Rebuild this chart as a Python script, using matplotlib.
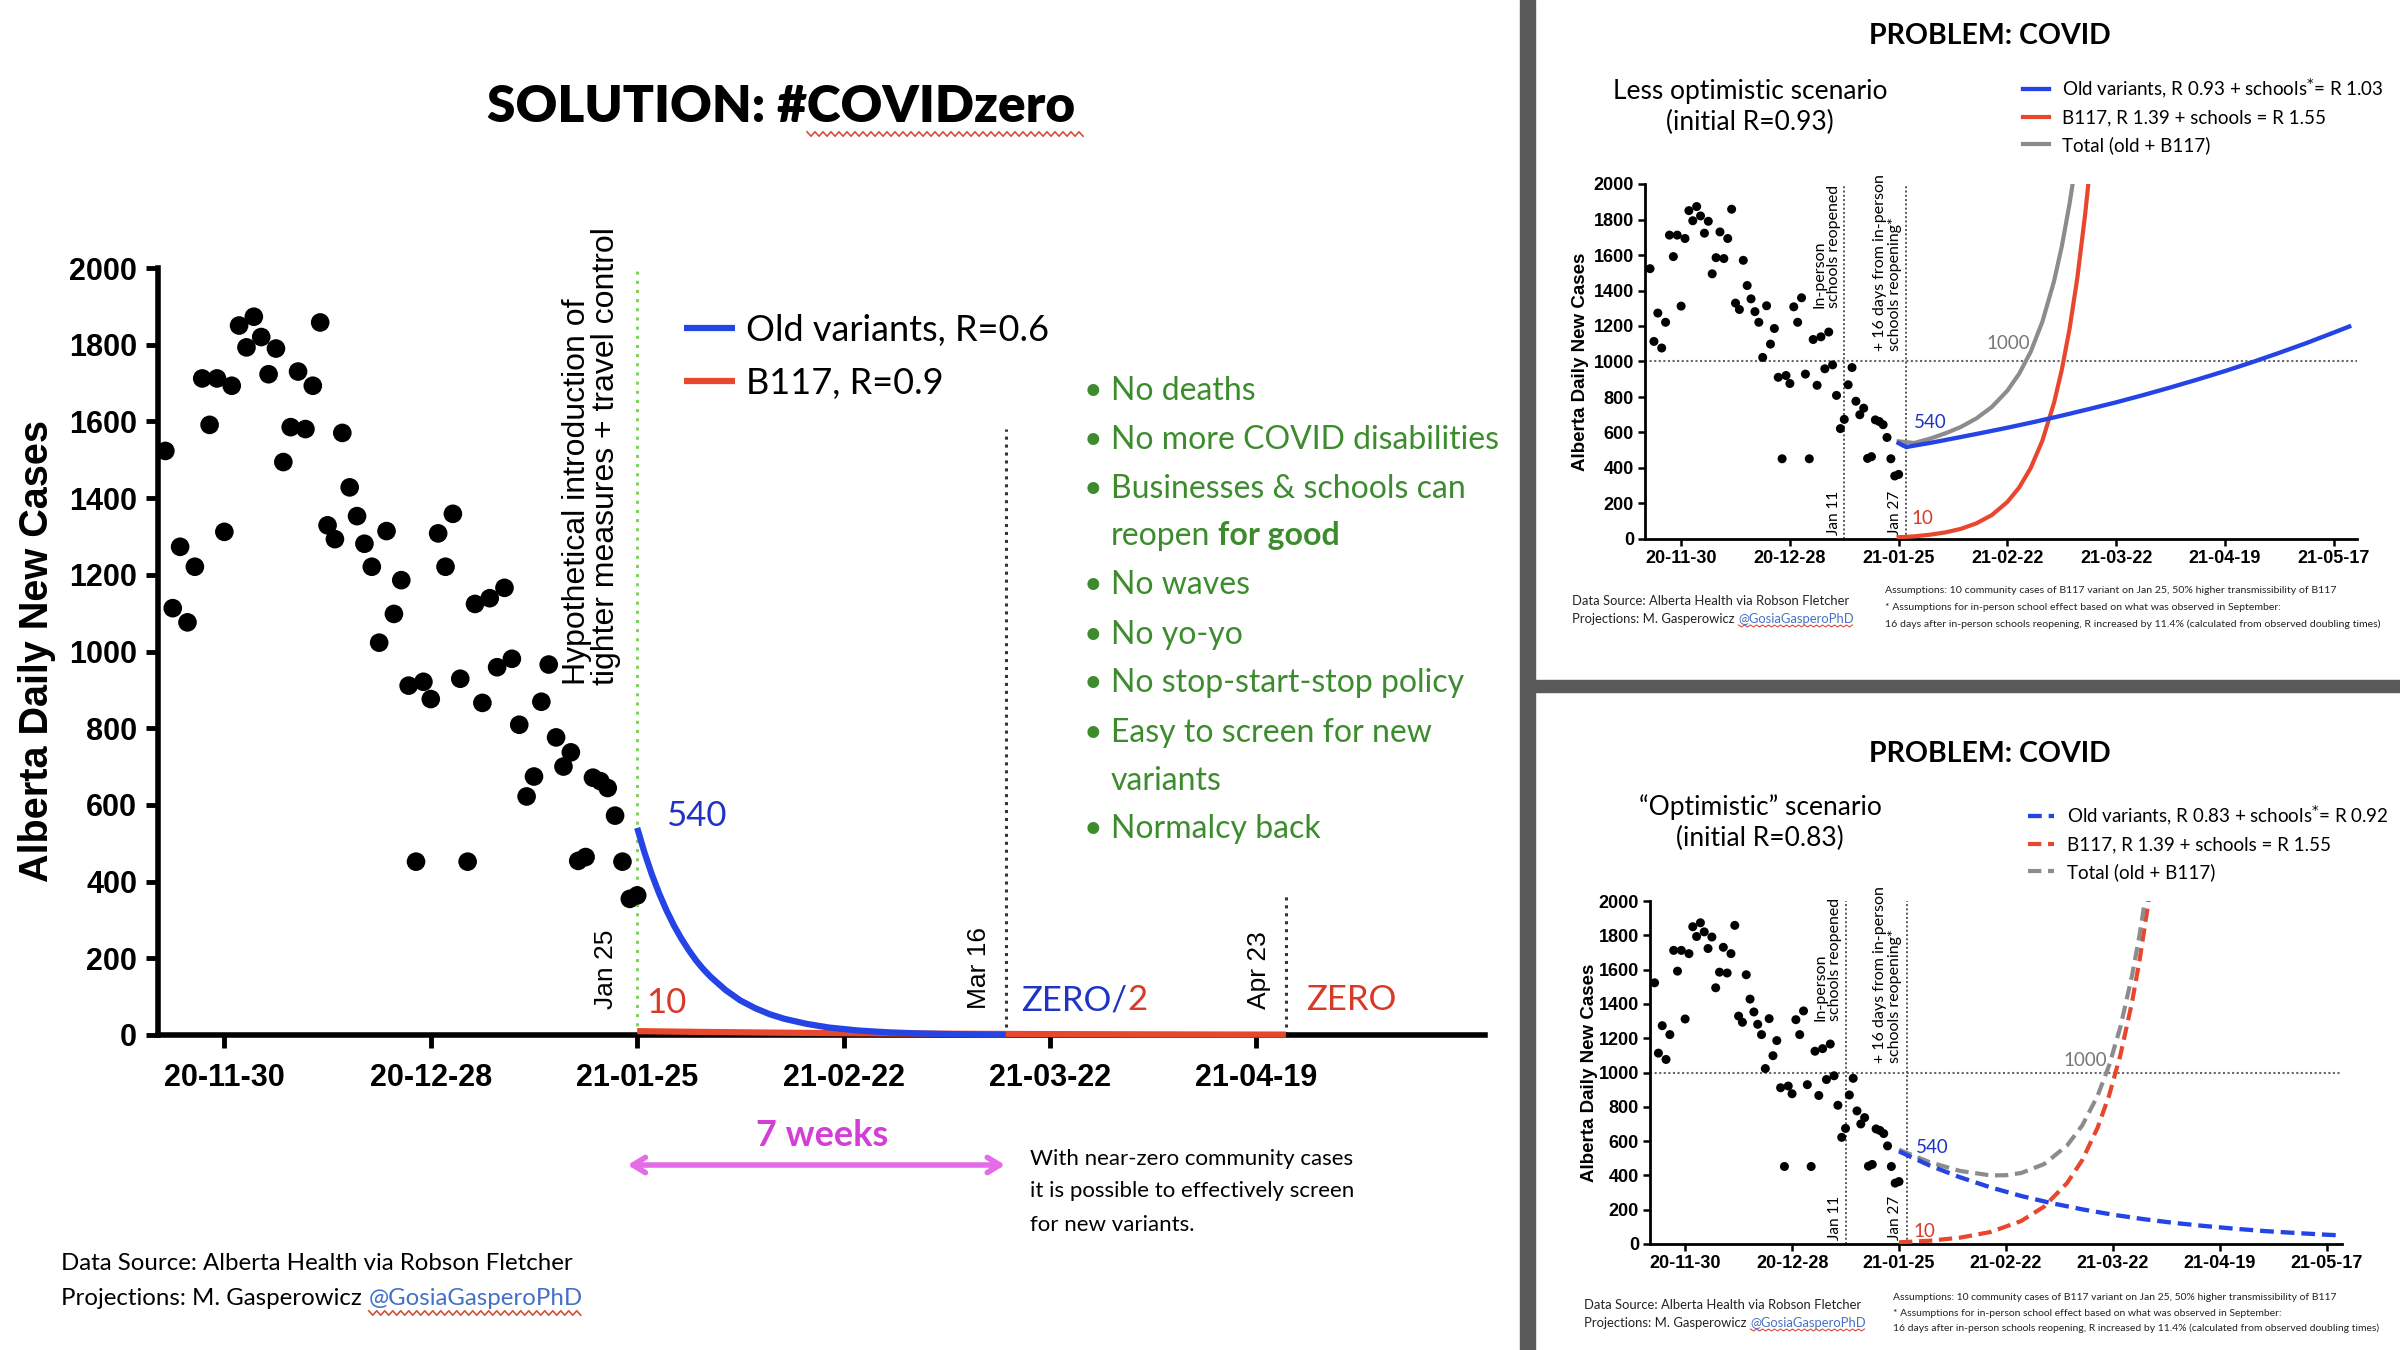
import numpy as np
import matplotlib
matplotlib.use('Agg')
import matplotlib.pyplot as plt
from matplotlib import font_manager as fm
from matplotlib.lines import Line2D
from matplotlib.patches import Rectangle
import matplotlib.transforms as mtransforms


def pick(names):
    for n in names:
        try:
            fm.findfont(fm.FontProperties(family=n), fallback_to_default=False)
            return n
        except Exception:
            continue
    return 'DejaVu Sans'


CAL = pick(['Lato', 'Open Sans', 'Liberation Sans'])
ARI = pick(['Liberation Sans', 'DejaVu Sans'])
ARN = pick(['Liberation Sans Narrow', 'Liberation Sans', 'DejaVu Sans'])

# ---------------- data (days relative to 2021-01-25) ----------------
cases = [1523, 1113, 1273, 1076, 1221, 1712, 1591, 1712, 1312, 1693, 1850, 1793,
         1873, 1820, 1723, 1790, 1494, 1585, 1730, 1580, 1693, 1858, 1329, 1293,
         1570, 1428, 1353, 1281, 1221, 1023, 1314, 1098, 1186, 911, 452, 921,
         876, 1308, 1221, 1359, 929, 452, 1124, 866, 1139, 959, 1166, 981,
         809, 622, 674, 869, 966, 776, 700, 737, 454, 464, 671, 662,
         644, 572, 452, 355, 364]
first_case_day = -64  # 2020-11-22

tick_days = [-56, -28, 0, 28, 56, 84, 112]
tick_labels = ['20-11-30', '20-12-28', '21-01-25', '21-02-22', '21-03-22', '21-04-19', '21-05-17']

# main panel projections (#COVIDzero)
old_main_days = [0, 1, 2, 3, 4, 5, 6, 7, 8, 9, 10, 12, 14, 16, 18, 20, 23, 26, 30, 34, 38, 42, 46, 50]
old_main_vals = [540, 475, 418, 368, 324, 285, 251, 221, 194, 171, 151, 117, 90, 70, 54, 42,
                 29, 19.5, 11.7, 7, 4.2, 2.5, 1.5, 0.9]
b117_main_days = [0, 10, 20, 30, 40, 50, 60, 70, 80, 88]
b117_main_vals = [10, 7.7, 5.9, 4.5, 3.5, 2.7, 2.1, 1.6, 1.2, 1.0]
event_days_main = [0, 50, 88]          # Jan 25, Mar 16, Apr 23
event_tops_main = [2000, 1580, 363]

# less optimistic scenario
old_top_days = [0, 1, 2, 4, 8, 14, 21, 28, 35, 42, 49, 56, 63, 70, 77, 84, 91, 98, 105, 112, 116]
old_top_vals = [540, 528, 518, 526, 541, 566, 596, 627, 660, 695, 732, 770, 811, 854, 899,
                946, 996, 1049, 1104, 1163, 1197]
b117_top_days = [0, 4, 8, 12, 16, 20, 24, 28, 31, 34, 37, 40, 42, 44, 46, 48, 49]
b117_top_vals = [10, 15, 24, 37, 57, 88, 135, 209, 289, 400, 554, 767, 953, 1184, 1471, 1827, 2037]
tot_top_days = [0, 4, 8, 12, 16, 20, 24, 28, 31, 34, 37, 40, 42, 44, 45]
tot_top_vals = [550, 541, 565, 595, 631, 679, 744, 836, 930, 1055, 1224, 1452, 1648, 1889, 2030]

# optimistic scenario
old_bot_days = [0, 8, 16, 24, 32, 40, 48, 56, 64, 72, 80, 88, 96, 104, 112, 116]
old_bot_vals = [540, 458, 389, 330, 280, 238, 202, 171, 145, 123, 105, 89, 75, 64, 54, 50]
b117_bot_days = [0, 8, 16, 24, 32, 38, 44, 48, 52, 55, 58, 61, 63, 65, 66]
b117_bot_vals = [10, 19, 37, 70, 134, 218, 355, 490, 678, 865, 1104, 1408, 1655, 1947, 2112]
tot_bot_days = [0, 8, 16, 24, 28, 32, 38, 44, 48, 52, 55, 58, 61, 63, 65]
tot_bot_vals = [550, 477, 426, 400, 401, 414, 466, 574, 692, 864, 1040, 1268, 1563, 1803, 2089]

school_days = [-14, 2]   # Jan 11, Jan 27

case_days = np.arange(len(cases)) + first_case_day

# ---------------- colours ----------------
BLUE = '#2444e6'
RED = '#e8462d'
GREY = '#8c8c8c'
BLUE_TXT = '#1f34c4'
RED_TXT = '#d83a28'
GREEN = '#3c8c2e'
MAGENTA = '#d23ed6'
ARROW = '#e46ce8'
LINK = '#4470c8'
WAVE = '#d2503c'

W, H = 2400, 1350
fig = plt.figure(figsize=(W / 100, H / 100), dpi=100)
fig.patch.set_facecolor('white')
R = fig.canvas.get_renderer()


def rect(x0, y0, x1, y1):
    return [x0 / W, 1 - y1 / H, (x1 - x0) / W, (y1 - y0) / H]


def ctext(x, yc, s, size, family=None, **kw):
    fam = family or CAL
    yb = yc + 0.36 * size * 100 / 72
    return fig.text(x / W, 1 - yb / H, s, fontsize=size, family=fam, va='baseline', **kw)


def xend(t):
    return t.get_window_extent(R).x1


def wavy(x0, x1, y, amp=2.2, step=4, lw=1.2):
    xs = np.arange(x0, x1, step)
    ys = y + amp * np.where(np.arange(len(xs)) % 2 == 0, -1, 1)
    fig.add_artist(Line2D(xs / W, 1 - ys / H, color=WAVE, lw=lw))


# ================= MAIN PANEL =================
ax = fig.add_axes(rect(158, 268, 1485, 1035))
ax.set_xlim(-65, 115)
ax.set_ylim(0, 2000)
ax.spines[['top', 'right']].set_visible(False)
ax.spines[['left', 'bottom']].set_linewidth(4)
ax.set_xticks(tick_days[:6])
ax.set_xticklabels(tick_labels[:6])
ax.set_yticks(np.arange(0, 2001, 200))
ax.tick_params(length=9, width=3.5, labelsize=22, pad=6)
ax.tick_params(axis='x', pad=11)
for lab in ax.get_xticklabels() + ax.get_yticklabels():
    lab.set_fontweight('bold')
    lab.set_family(ARI)
ax.set_ylabel('Alberta Daily New Cases', fontsize=28.5, fontweight='bold', family=ARI)
ax.yaxis.set_label_coords(-0.077, 0.5)

ax.scatter(case_days, cases, s=180, color='black', edgecolors='none', zorder=3, clip_on=False)
h_b = ax.plot(b117_main_days, b117_main_vals, color=RED, lw=4.5, zorder=4, clip_on=False,
              solid_capstyle='butt', label='B117, R=0.9')[0]
h_o = ax.plot(old_main_days, old_main_vals, color=BLUE, lw=4.5, zorder=5, clip_on=False,
              solid_capstyle='butt', label='Old variants, R=0.6')[0]
ax.vlines(event_days_main[0], 0, event_tops_main[0], colors='#7fd35b',
          linestyles=(0, (1, 2)), lw=2.2, zorder=2)
ax.vlines(event_days_main[1:], 0, event_tops_main[1:], colors='#333333',
          linestyles=(0, (1, 1.6)), lw=2.2, zorder=2)

ax.legend(handles=[h_o, h_b], loc='center left', bbox_to_anchor=(684 / W, 1 - 357 / H),
          bbox_transform=fig.transFigure, frameon=False, prop=dict(family=CAL, size=26),
          handlelength=1.4, handletextpad=0.33, labelspacing=0.56, borderpad=0, borderaxespad=0)

ax.text(-2.2, 912, 'Hypothetical introduction of\ntighter measures + travel control',
        rotation=90, rotation_mode='anchor', ha='left', va='bottom', fontsize=23,
        family=ARI, linespacing=0.95)
for d, lab in zip([-4.2, 46.3, 84.4], ['Jan 25', 'Mar 16', 'Apr 23']):
    ax.text(d, 68, lab, rotation=90, rotation_mode='anchor', ha='left', va='center',
            fontsize=19, family=ARI)
ax.text(8, 571, '540', color=BLUE_TXT, fontsize=25, family=CAL, ha='center', va='center')
ax.text(3.9, 83, '10', color=RED_TXT, fontsize=25, family=CAL, ha='center', va='center')

t = ctext(1021, 998, 'ZERO/', 25, color=BLUE_TXT)
ctext(xend(t), 998, '2', 25, color=RED_TXT)
ctext(1306, 998, 'ZERO', 25, color=RED_TXT)

# title
ctext(781, 103, 'SOLUTION: #COVIDzero', 37, weight='heavy', ha='center', color='black')
wavy(807, 1086, 134)

# bullets
bullet_lines = [('No deaths', True), ('No more COVID disabilities', True),
                ('Businesses & schools can', True), ('reopen', False), ('No waves', True),
                ('No yo-yo', True), ('No stop-start-stop policy', True),
                ('Easy to screen for new', True), ('variants', False), ('Normalcy back', True)]
bullet_y = [389, 438, 487, 534, 582, 632, 681, 730, 778, 827]
for (txt, has_b), y in zip(bullet_lines, bullet_y):
    if has_b:
        ctext(1084, y, '•', 23, color=GREEN)
    tt = ctext(1111, y, txt, 23, color=GREEN)
    if txt == 'reopen':
        ctext(xend(tt) + 8, y, 'for good', 23, color=GREEN, weight='bold')

# 7 weeks arrow
ctext(822, 1133, '7 weeks', 26, color=MAGENTA, weight='bold', ha='center')
btr = mtransforms.blended_transform_factory(ax.transData, fig.transFigure)
ax.annotate('', xy=(49.9, 1 - 1165 / H), xytext=(-1.3, 1 - 1165 / H), xycoords=btr,
            textcoords=btr, annotation_clip=False,
            arrowprops=dict(arrowstyle='<->,head_length=0.9,head_width=0.55', color=ARROW,
                            lw=4, shrinkA=0, shrinkB=0))
for s, y in zip(['With near-zero community cases', 'it is possible to effectively screen',
                 'for new variants.'], [1157, 1189, 1223]):
    ctext(1030, y, s, 16, color='black')

# source
ctext(61, 1261, 'Data Source: Alberta Health via Robson Fletcher', 17.3, color='black')
t = ctext(61, 1296, 'Projections: M. Gasperowicz', 17.3, color='black')
t2 = ctext(xend(t) + 7, 1296, '@GosiaGasperoPhD', 17.3, color=LINK)
bb = t2.get_window_extent(R)
wavy(bb.x0, bb.x1, 1313)


# ================= SIDE PANELS =================
def side_panel(box, xlim, ylab_x, dashed, old_d, old_v, b_d, b_v, t_d, t_v,
               lab540, lab10, lab1000):
    a = fig.add_axes(rect(*box))
    a.set_xlim(*xlim)
    a.set_ylim(0, 2000)
    a.spines[['top', 'right']].set_visible(False)
    a.spines[['left', 'bottom']].set_linewidth(2)
    a.set_xticks(tick_days)
    a.set_xticklabels(tick_labels)
    a.set_yticks(np.arange(0, 2001, 200))
    a.tick_params(length=5, width=1.8, labelsize=13, pad=3)
    for lab in a.get_xticklabels() + a.get_yticklabels():
        lab.set_fontweight('bold')
        lab.set_family(ARN)
    a.set_ylabel('Alberta Daily New Cases', fontsize=13.5, fontweight='bold', family=ARN)
    a.yaxis.set_label_coords(ylab_x, 0.5)
    a.scatter(case_days, cases, s=42, color='black', edgecolors='none', zorder=3, clip_on=False)
    a.axhline(1000, color='#666666', ls=(0, (1, 1.2)), lw=1.5, zorder=1)
    a.vlines(school_days, 0, 2000, colors='#555555', linestyles=(0, (1, 1.2)), lw=1.4, zorder=1)
    ls = (0, (3.2, 1.6)) if dashed else '-'
    lo = a.plot(old_d, old_v, color=BLUE, lw=3.1, ls=ls, zorder=5)[0]
    lb = a.plot(b_d, b_v, color=RED, lw=3.0, ls=ls, zorder=4)[0]
    lt = a.plot(t_d, t_v, color=GREY, lw=3.0, ls=ls, zorder=4)[0]
    a.text(-14.8, 1300, 'In-person\nschools reopened', rotation=90, rotation_mode='anchor',
           ha='left', va='bottom', fontsize=11.5, family=CAL, linespacing=1.1)
    a.text(0.9, 1058, '+ 16 days from in-person\nschools reopening*', rotation=90,
           rotation_mode='anchor', ha='left', va='bottom', fontsize=11.5, family=CAL,
           linespacing=1.1)
    for d, lab in zip([-14.8, 0.9], ['Jan 11', 'Jan 27']):
        a.text(d, 25, lab, rotation=90, rotation_mode='anchor', ha='left', va='bottom',
               fontsize=11, family=CAL)
    a.text(*lab540, '540', color=BLUE_TXT, fontsize=13.5, family=CAL, ha='center', va='center')
    a.text(*lab10, '10', color=RED_TXT, fontsize=13.5, family=CAL, ha='center', va='center')
    a.text(*lab1000, '1000', color='#777777', fontsize=13.5, family=CAL, ha='center', va='center')
    return a, lo, lb, lt


def panel_texts(a, handles, labels, title_y, scen, scen_x, scen_y, leg_x, leg_y,
                src_x, src_y, as_x, as_y, as_size):
    ctext(1990, title_y, 'PROBLEM: COVID', 20.5, weight='bold', ha='center', color='black')
    ctext(scen_x, scen_y[0], scen[0], 19, ha='center', color='black')
    ctext(scen_x, scen_y[1], scen[1], 19, ha='center', color='black')
    a.legend(handles=handles, labels=labels, loc='center left',
             bbox_to_anchor=(leg_x / W, 1 - leg_y / H), bbox_transform=fig.transFigure,
             frameon=False, prop=dict(family=CAL, size=13.5), handlelength=1.4,
             handletextpad=0.7, labelspacing=0.5, borderpad=0, borderaxespad=0)
    ctext(src_x, src_y[0], 'Data Source: Alberta Health via Robson Fletcher', 9.4, color='#222222')
    t = ctext(src_x, src_y[1], 'Projections: M. Gasperowicz', 9.4, color='#222222')
    t2 = ctext(xend(t) + 4, src_y[1], '@GosiaGasperoPhD', 9.4, color=LINK)
    bb = t2.get_window_extent(R)
    wavy(bb.x0, bb.x1, src_y[1] + 8, amp=1.0, step=3, lw=0.8)
    notes = ['Assumptions: 10 community cases of B117 variant on Jan 25, 50% higher transmissibility of B117',
             '* Assumptions for in-person school effect based on what was observed in September:',
             '16 days after in-person schools reopening, R increased by 11.4% (calculated from observed doubling times)']
    for s, y in zip(notes, as_y):
        ctext(as_x, y, s, as_size, color='#222222')


a1, lo, lb, lt = side_panel((1645, 184, 2357, 539), (-65.3, 118), -0.079, False,
                            old_top_days, old_top_vals, b117_top_days, b117_top_vals,
                            tot_top_days, tot_top_vals, (8.2, 659), (6.1, 113), (28.3, 1099))
panel_texts(a1, [lo, lb, lt],
            ['Old variants, R 0.93 + schools$^{*}$= R 1.03', 'B117, R 1.39 + schools = R 1.55',
             'Total (old + B117)'],
            34, ('Less optimistic scenario', '(initial R=0.93)'), 1750, (89, 121),
            2023, 115, 1572, (600, 618), 1885, (589, 606, 623), 7.55)

a2, lo, lb, lt = side_panel((1650, 901, 2342, 1244), (-65.2, 116), -0.075, True,
                            old_bot_days, old_bot_vals, b117_bot_days, b117_bot_vals,
                            tot_bot_days, tot_bot_vals, (8.7, 561), (6.6, 70), (48.8, 1069))
panel_texts(a2, [lo, lb, lt],
            ['Old variants, R 0.83 + schools$^{*}$= R 0.92', 'B117, R 1.39 + schools = R 1.55',
             'Total (old + B117)'],
            752, ('\u201cOptimistic\u201d scenario', '(initial R=0.83)'), 1760, (805, 837),
            2028, 842, 1584, (1304, 1322), 1893, (1296, 1312, 1327), 7.5)

# dividers
fig.patches.append(Rectangle((1520 / W, 0), 15 / W, 1, transform=fig.transFigure,
                             color='#5a5a5a', zorder=10))
fig.patches.append(Rectangle((1535 / W, 1 - 692 / H), (W - 1535) / W, 12 / H,
                             transform=fig.transFigure, color='#5a5a5a', zorder=10))

fig.savefig('out.png', dpi=100, facecolor='white')
